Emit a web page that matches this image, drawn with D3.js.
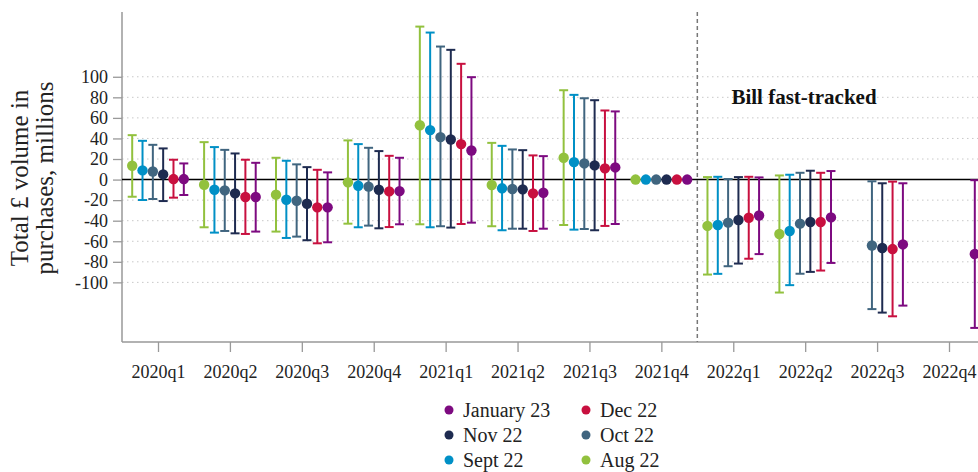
<!DOCTYPE html>
<html>
<head>
<meta charset="utf-8">
<script src="https://cdn.jsdelivr.net/npm/d3@7"></script>
<style>
  body { margin: 0; background: #fff; }
  svg { display: block; font-family: "Liberation Serif", "DejaVu Serif", serif; }
</style>
</head>
<body>
<svg width="978" height="472"></svg>
<script>
// quarters on the x axis
const quarters = ["2020q1", "2020q2", "2020q3", "2020q4", "2021q1", "2021q2",
  "2021q3", "2021q4", "2022q1", "2022q2", "2022q3", "2022q4"];

// vintages, in plotting order
const vintages = ["Aug 22", "Sept 22", "Oct 22", "Nov 22", "Dec 22", "January 23"];
const colours = ["#92c13e", "#0090c6", "#40657f", "#1e2b50", "#c8103f", "#7d0a80"];

// point estimates and intervals for each vintage (null = not published)
const aug22Mid = [13.4, -5.0, -14.7, -2.7, 52.8, -5.3, 21.2, 0, -45.1, -52.9, null, null];
const aug22Hi = [43.2, 36.4, 21.2, 38.1, 148.8, 35.7, 86.9, null, 2.4, 4.0, null, null];
const aug22Lo = [-16.7, -46.4, -50.6, -42.9, -43.5, -45.4, -44.2, null, -92.4, -109.9, null, null];

const sep22Mid = [8.9, -9.9, -19.6, -6.0, 48.1, -8.5, 17.0, 0, -44.2, -50.0, null, null];
const sep22Hi = [37.7, 31.6, 18.3, 34.5, 143.0, 32.8, 82.4, null, 2.7, 4.7, null, null];
const sep22Lo = [-19.9, -51.6, -56.8, -46.4, -46.4, -49.3, -48.7, null, -91.7, -102.7, null, null];

const oct22Mid = [7.9, -10.5, -20.6, -6.9, 41.3, -9.2, 15.7, 0, -41.9, -42.9, -64.1, null];
const oct22Hi = [33.8, 28.9, 14.8, 30.9, 129.4, 29.3, 79.1, null, 0.5, 6.6, -1.7, null];
const oct22Lo = [-18.9, -50.0, -55.5, -44.8, -45.4, -47.8, -48.1, null, -84.3, -91.6, -126.0, null];

const nov22Mid = [5.0, -13.4, -23.5, -9.9, 39.0, -9.5, 13.8, 0, -39.3, -41.3, -66.6, null];
const nov22Hi = [30.3, 25.4, 12.1, 27.7, 126.2, 28.6, 77.2, null, 2.4, 8.6, -3.6, null];
const nov22Lo = [-20.9, -52.3, -59.0, -47.4, -46.7, -47.8, -49.3, null, -81.7, -89.8, -129.4, null];

const dec22Mid = [0.5, -17.0, -27.0, -11.5, 34.5, -13.4, 10.9, 0, -37.1, -41.3, -67.6, null];
const dec22Hi = [19.3, 19.3, 9.5, 23.1, 112.6, 23.5, 67.2, null, 2.7, 6.6, -2.0, null];
const dec22Lo = [-17.6, -52.9, -62.0, -46.2, -43.2, -50.0, -45.1, null, -77.0, -88.5, -133.0, null];

const jan23Mid = [0.5, -17.0, -27.0, -11.2, 28.3, -12.8, 11.8, 0, -35.0, -36.8, -63.1, -72.4];
const jan23Hi = [15.7, 16.3, 7.0, 21.2, 99.6, 22.8, 66.3, null, 2.1, 8.3, -3.6, -0.6];
const jan23Lo = [-15.0, -50.6, -61.0, -43.5, -41.9, -47.8, -43.2, null, -72.5, -81.1, -122.6, -144.3];

const yTicks = [-100, -80, -60, -40, -20, 0, 20, 40, 60, 80, 100];

const seriesMid = [aug22Mid, sep22Mid, oct22Mid, nov22Mid, dec22Mid, jan23Mid];
const seriesHi = [aug22Hi, sep22Hi, oct22Hi, nov22Hi, dec22Hi, jan23Hi];
const seriesLo = [aug22Lo, sep22Lo, oct22Lo, nov22Lo, dec22Lo, jan23Lo];

const svg = d3.select("svg");
const plotLeft = 122, plotRight = 978, plotTop = 12, plotBottom = 342;

// scales
const x = d3.scalePoint()
  .domain(quarters)
  .range([158, 949]);

const offset = d3.scalePoint()
  .domain(vintages)
  .range([-25.8, 25.8]);

const y = d3.scaleLinear()
  .domain([-158, 163])
  .range([plotBottom, plotTop]);

// dotted gridlines
svg.append("g")
  .selectAll("line")
  .data(yTicks.filter(d => d != 0))
  .enter()
  .append("line")
  .attr("x1", plotLeft)
  .attr("x2", plotRight)
  .attr("y1", d => y(d))
  .attr("y2", d => y(d))
  .attr("stroke", "#c8c8c8")
  .attr("stroke-width", 1)
  .attr("stroke-dasharray", "1.5,3.5");

// y axis
const yAxis = svg.append("g")
  .attr("transform", `translate(${plotLeft},0)`)
  .call(d3.axisLeft(y).tickValues(yTicks).tickSize(9).tickPadding(5).tickFormat(d => String(d)));
yAxis.select(".domain").remove();
yAxis.selectAll(".tick line").attr("stroke", "#999").attr("stroke-width", 1.3);
yAxis.selectAll(".tick text").attr("font-size", 18).attr("fill", "#222")
  .attr("font-family", "Liberation Serif, serif");
svg.append("line")
  .attr("x1", plotLeft).attr("x2", plotLeft).attr("y1", plotTop).attr("y2", plotBottom)
  .attr("stroke", "#999").attr("stroke-width", 1.5);

// x axis
const xAxis = svg.append("g")
  .attr("transform", `translate(0,${plotBottom})`)
  .call(d3.axisBottom(x).tickSize(10).tickPadding(13));
xAxis.select(".domain").remove();
xAxis.selectAll(".tick line").attr("stroke", "#999").attr("stroke-width", 1.3);
xAxis.selectAll(".tick text").attr("font-size", 18).attr("fill", "#222")
  .attr("font-family", "Liberation Serif, serif");
svg.append("line")
  .attr("x1", plotLeft).attr("x2", plotRight).attr("y1", plotBottom).attr("y2", plotBottom)
  .attr("stroke", "#999").attr("stroke-width", 1.5);

// zero line
svg.append("line")
  .attr("x1", plotLeft).attr("x2", plotRight)
  .attr("y1", y(0)).attr("y2", y(0))
  .attr("stroke", "#000").attr("stroke-width", 1.6);

// dashed marker between 2021q4 and 2022q1
const markX = (x("2021q4") + x("2022q1")) / 2;
svg.append("line")
  .attr("x1", markX).attr("x2", markX).attr("y1", plotTop).attr("y2", plotBottom)
  .attr("stroke", "#777").attr("stroke-width", 1.5)
  .attr("stroke-dasharray", "4,3");

svg.append("text")
  .attr("x", 804)
  .attr("y", 104)
  .attr("text-anchor", "middle")
  .attr("font-size", 21)
  .attr("font-weight", "bold")
  .attr("fill", "#111")
  .text("Bill fast-tracked");

// error bars and points
vintages.forEach((v, s) => {
  const colour = colours[s];
  const g = svg.append("g");
  const rows = quarters.map((q, i) => ({
    q: q, mid: seriesMid[s][i], lo: seriesLo[s][i], hi: seriesHi[s][i]
  }));
  const bars = rows.filter(d => d.lo != null && d.hi != null);
  const cx = d => x(d.q) + offset(v);

  g.selectAll(".bar")
    .data(bars)
    .enter()
    .append("line")
    .attr("x1", cx).attr("x2", cx)
    .attr("y1", d => y(d.lo)).attr("y2", d => y(d.hi))
    .attr("stroke", colour).attr("stroke-width", 2);

  ["lo", "hi"].forEach(k => {
    g.selectAll(".cap-" + k)
      .data(bars)
      .enter()
      .append("line")
      .attr("x1", d => cx(d) - 4.5).attr("x2", d => cx(d) + 4.5)
      .attr("y1", d => y(d[k])).attr("y2", d => y(d[k]))
      .attr("stroke", colour).attr("stroke-width", 2);
  });

  g.selectAll("circle")
    .data(rows.filter(d => d.mid != null))
    .enter()
    .append("circle")
    .attr("cx", cx)
    .attr("cy", d => y(d.mid))
    .attr("r", 5.2)
    .attr("fill", colour);
});

// y axis title
const title = svg.append("text")
  .attr("transform", "translate(0,178) rotate(-90)")
  .attr("text-anchor", "middle")
  .attr("font-size", 25)
  .attr("fill", "#222");
title.append("tspan").attr("x", 0).attr("y", 28).text("Total £ volume in");
title.append("tspan").attr("x", 0).attr("y", 53).text("purchases, millions");

// legend
const legendOrder = [5, 4, 3, 2, 1, 0];
const legend = svg.append("g");
legendOrder.forEach((s, k) => {
  const col = k % 2, row = Math.floor(k / 2);
  const lx = col == 0 ? 449 : 586;
  const ly = 410 + row * 25;
  legend.append("circle")
    .attr("cx", lx).attr("cy", ly).attr("r", 4.5)
    .attr("fill", colours[s]);
  legend.append("text")
    .attr("x", lx + 14).attr("y", ly + 6.5)
    .attr("font-size", 20)
    .attr("fill", "#222")
    .text(vintages[s]);
});
</script>
</body>
</html>
